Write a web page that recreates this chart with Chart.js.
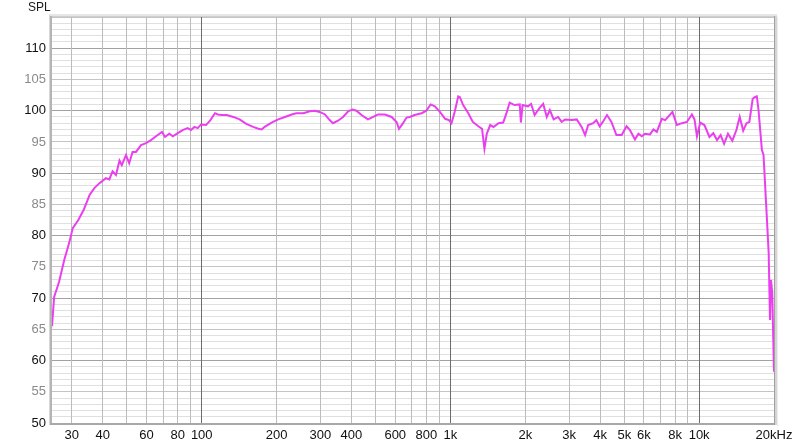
<!DOCTYPE html>
<html>
<head>
<meta charset="utf-8">
<title>SPL</title>
<script src="https://cdn.jsdelivr.net/npm/chart.js@4.4.1/dist/chart.umd.min.js"></script>
<style>
  html, body { margin: 0; padding: 0; background: #fff; }
  #wrap { width: 800px; height: 446px; position: relative; }
</style>
</head>
<body>
<div id="wrap"><canvas id="splChart"></canvas></div>
<script>
// frequency response
const freqs = [
  25, 25.5, 26.7, 28.0, 29.3, 30.3, 31.9, 33.5, 35.4, 37.0, 38.8, 41.2, 42.5, 43.8, 45.2, 46.7, 47.7,
  49.6, 51.1, 52.7, 54.4, 57.0, 59.7, 62.5, 65.5, 69.2, 71.2, 74.1, 76.5, 80.1, 83.8, 87.8, 90.5,
  93.5, 96.3, 99.4, 104, 108, 113, 116, 120, 126, 134, 142, 151, 161, 169, 174, 179, 191, 203, 216,
  230, 240, 256, 272, 285, 298, 313, 327, 337, 353, 370, 388, 404, 419, 439, 466, 489, 512, 545,
  580, 607, 621, 645, 666, 686, 718, 766, 800, 832, 866, 907, 952, 986, 1010, 1040, 1075, 1090,
  1125, 1180, 1230, 1295, 1340, 1370, 1400, 1445, 1490, 1560, 1630, 1680, 1730, 1810, 1900, 1920,
  1950, 2050, 2110, 2180, 2280, 2360, 2440, 2510, 2600, 2710, 2800, 2890, 3070, 3220, 3370, 3480,
  3580, 3750, 3860, 3980, 4100, 4260, 4440, 4650, 4880, 5110, 5270, 5520, 5700, 5880, 6060, 6350,
  6550, 6760, 7080, 7300, 7530, 7810, 8140, 8530, 8930, 9350, 9580, 9800, 10100, 10500, 11000,
  11400, 11800, 12200, 12600, 13060, 13600, 14120, 14560, 15040, 15510, 15920, 16420, 16790, 17060,
  17330, 17880, 18150, 18620, 19040, 19270, 19450, 19680, 20000
];
const spl = [
  65.5, 70.2, 72.6, 76.1, 78.8, 81.2, 82.5, 84.1, 86.5, 87.6, 88.4, 89.2, 89.0, 90.3, 89.7, 92.0, 91.3,
  92.9, 91.6, 93.4, 93.4, 94.5, 94.8, 95.3, 95.9, 96.6, 95.8, 96.3, 95.9, 96.4, 96.9, 97.2, 96.9,
  97.4, 97.2, 97.8, 97.7, 98.4, 99.6, 99.4, 99.3, 99.3, 99.0, 98.6, 97.9, 97.4, 97.1, 97.0, 97.4, 98.1, 98.6, 99.0,
  99.4, 99.6, 99.6, 99.9, 100.0, 99.8, 99.4, 98.5, 98.0, 98.4, 99.0, 99.9, 100.2, 100.0, 99.3, 98.6, 99.0, 99.4, 99.4,
  99.0, 98.2, 97.1, 98.0, 98.9, 99.0, 99.3, 99.6, 100.0, 101.0, 100.7, 99.8, 98.7, 98.5, 98.0, 99.8, 102.3, 102.2,
  100.9, 99.6, 98.2, 97.5, 97.1, 93.9, 96.3, 97.7, 97.4, 98.0, 98.1, 99.6, 101.3, 100.9, 101.0, 98.1,
  100.9, 100.7, 101.1, 99.3, 100.4, 101.1, 99.0, 100.1, 98.6, 99.0, 98.2, 98.6, 98.5, 98.6, 97.4, 96.1,
  97.7, 98.0, 98.5, 97.5, 98.2, 99.3, 98.2, 96.1, 96.1, 97.5, 96.9, 95.4, 96.3, 95.9, 96.3, 96.2,
  97.0, 96.6, 98.7, 98.5, 99.1, 99.8, 97.7, 98.0, 98.2, 99.4, 98.6, 95.9, 98.1, 97.7, 95.8,
  96.4, 95.3, 96.1, 94.7, 96.3, 95.2, 96.9, 99.0, 96.8, 98.0, 98.2, 101.9, 102.2, 102.3,
  100.1, 93.7, 92.9, 84.6, 77.2, 66.5, 72.9, 70.8, 58.2
];

// axes
const xMin = 25, xMax = 20000;
const yMin = 50, yMax = 115;
const xGridValues = [30, 40, 50, 60, 70, 80, 90, 100, 200, 300, 400, 500, 600, 700, 800, 900,
  1000, 2000, 3000, 4000, 5000, 6000, 7000, 8000, 9000, 10000, 20000];
const xLabelValues = [30, 40, 60, 80, 100, 200, 300, 400, 600, 800, 1000, 2000, 3000, 4000, 5000, 6000, 8000, 10000, 20000];
const xLabelTexts = ['30', '40', '60', '80', '100', '200', '300', '400', '600', '800', '1k', '2k', '3k', '4k', '5k', '6k', '8k', '10k', '20kHz'];
const decadeLines = [100, 1000, 10000];

const points = freqs.map((f, i) => ({ x: f, y: spl[i] }));

// gray frame with the soft shadow round the plot, plus the SPL caption
const framePlugin = {
  id: 'frame',
  afterDraw(chart) {
    const { ctx, chartArea: a } = chart;
    ctx.save();
    ctx.fillStyle = '#e6e6e6';
    ctx.fillRect(a.left - 3, a.top - 3, a.right - a.left + 6, 2);
    ctx.fillStyle = '#cfcfcf';
    ctx.fillRect(a.left - 3, a.top - 1, a.right - a.left + 5, 1);
    ctx.fillStyle = '#d8d8d8';
    ctx.fillRect(a.left - 3, a.top - 2, 1, a.bottom - a.top + 4);
    ctx.fillStyle = '#b4b4b4';
    ctx.fillRect(a.left - 2, a.top - 1, 2, a.bottom - a.top + 2);
    ctx.fillStyle = '#a8a8a8';
    ctx.fillRect(a.left - 2, a.bottom, a.right - a.left + 3, 2);
    ctx.fillStyle = '#a0a0a0';
    ctx.fillRect(a.right, a.top - 1, 1, a.bottom - a.top + 3);
    ctx.fillStyle = '#d4d4d4';
    ctx.fillRect(a.right + 1, a.top - 1, 2, a.bottom - a.top + 3);
    ctx.fillStyle = '#ececec';
    ctx.fillRect(a.right + 3, a.top, 1, a.bottom - a.top + 3);

    ctx.fillStyle = '#1a1a1a';
    ctx.font = '12px "Liberation Sans", Arial, sans-serif';
    ctx.textAlign = 'left';
    ctx.textBaseline = 'middle';
    ctx.fillText('SPL', 28, 8);
    ctx.restore();
  }
};

const ctxSpl = document.getElementById('splChart').getContext('2d');
new Chart(ctxSpl, {
  type: 'line',
  data: {
    datasets: [{
      label: 'SPL',
      data: points,
      borderColor: '#ea3fee',
      borderWidth: 2,
      pointRadius: 0,
      tension: 0,
      fill: false
    }]
  },
  options: {
    responsive: true,
    maintainAspectRatio: false,
    animation: false,
    layout: { padding: { top: 17, right: 26, left: 0, bottom: 0 } },
    plugins: {
      legend: { display: false },
      tooltip: { enabled: false }
    },
    scales: {
      x: {
        type: 'logarithmic',
        min: xMin,
        max: xMax,
        afterBuildTicks: scale => { scale.ticks = xGridValues.map(v => ({ value: v })); },
        afterFit: scale => { scale.height = 23; },
        border: { display: false },
        grid: {
          z: 0,
          drawTicks: false,
          color: c => decadeLines.includes(c.tick && c.tick.value) ? '#6c6c6c' : '#bcbcbc'
        },
        ticks: {
          autoSkip: false,
          maxRotation: 0,
          padding: 5,
          color: '#111',
          font: { family: '"Liberation Sans", Arial, sans-serif', size: 13 },
          callback: v => {
            const i = xLabelValues.indexOf(v);
            return i >= 0 ? xLabelTexts[i] : '';
          }
        }
      },
      y: {
        type: 'linear',
        min: yMin,
        max: yMax,
        afterFit: scale => { scale.width = 52; },
        border: { display: false },
        grid: {
          z: -1,
          drawTicks: false,
          color: c => {
            const v = c.tick && c.tick.value;
            if (v % 10 === 0) return '#a2a2a2';
            if (v % 5 === 0) return '#c4c4c4';
            return '#e0e0e0';
          }
        },
        ticks: {
          stepSize: 1,
          autoSkip: false,
          padding: 6,
          font: { family: '"Liberation Sans", Arial, sans-serif', size: 13 },
          color: c => (c.tick.value % 10 === 0 ? '#111' : '#8a8a8a'),
          callback: v => (v % 5 === 0 && v <= 110 ? String(v) : '')
        }
      }
    }
  },
  plugins: [framePlugin]
});
</script>
</body>
</html>
